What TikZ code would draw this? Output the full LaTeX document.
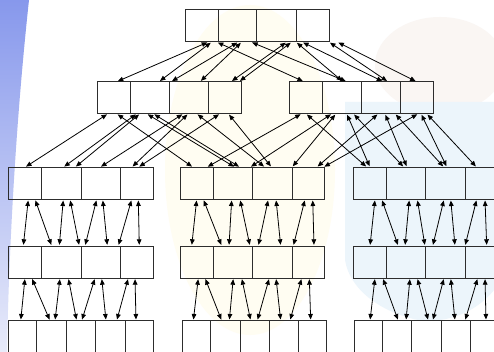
\documentclass[tikz,border=0pt]{standalone}
\usetikzlibrary{arrows.meta}
\definecolor{boxline}{RGB}{45,45,45}
\definecolor{bandtop}{RGB}{135,152,236}
\definecolor{bandbot}{RGB}{232,235,250}
\definecolor{crestblue}{RGB}{236,245,251}
\definecolor{sunyellow}{RGB}{255,253,242}
\definecolor{treetint}{RGB}{250,246,243}
\newcommand\mkcell[4]{\node[cellst,minimum width={(#3)-(#2)}] (#1) at (#2,#4) {};}
\begin{document}
\begin{tikzpicture}[x=1pt,y=-1pt,
  cellst/.style={draw=boxline,line width=1pt,inner sep=0pt,outer sep=0pt,anchor=north west,minimum height=32pt},
  arr/.style={line width=0.8pt,{Triangle[length=5.5pt,width=4.6pt]}-{Triangle[length=5.5pt,width=4.6pt]},shorten <=1.2pt,shorten >=1.2pt}]
\useasboundingbox (0,0) rectangle (494,352);
\clip (0,0) rectangle (494,352);
% faint background
\fill[white] (0,0) rectangle (494,352);
\fill[sunyellow] (250,170) ellipse [x radius=85, y radius=165];
\fill[treetint] (440,65) ellipse [x radius=65, y radius=48];
\fill[crestblue] (345,102) -- (494,102) -- (494,290) .. controls (470,320) and (430,325) .. (410,318) .. controls (380,310) and (350,290) .. (345,260) -- cycle;
\shade[top color=bandtop,bottom color=bandbot] (0,0) -- (29,0) .. controls (17,110) and (9,240) .. (7,352) -- (0,352) -- cycle;

% top box
\mkcell{t1}{185}{218}{10}\mkcell{t2}{218}{256.7}{10}\mkcell{t3}{256.7}{296.7}{10}\mkcell{t4}{296.7}{329}{10}
% level 2
\mkcell{a1}{97.3}{130}{81.7}\mkcell{a2}{130}{169.3}{81.7}\mkcell{a3}{169.3}{208.7}{81.7}\mkcell{a4}{208.7}{241.3}{81.7}
\mkcell{b1}{289}{322.3}{81.7}\mkcell{b2}{322.3}{361}{81.7}\mkcell{b3}{361}{400.7}{81.7}\mkcell{b4}{400.7}{433.3}{81.7}
% level 3 and 4
\foreach \r/\y in {c/167.3,d/246}{
  \mkcell{\r a1}{8.3}{41.7}{\y}\mkcell{\r a2}{41.7}{81}{\y}\mkcell{\r a3}{81}{120.7}{\y}\mkcell{\r a4}{120.7}{153}{\y}
  \mkcell{\r b1}{180.7}{213.3}{\y}\mkcell{\r b2}{213.3}{252.3}{\y}\mkcell{\r b3}{252.3}{292.7}{\y}\mkcell{\r b4}{292.7}{324.7}{\y}
  \mkcell{\r c1}{353.3}{386.3}{\y}\mkcell{\r c2}{386.3}{425.7}{\y}\mkcell{\r c3}{425.7}{465}{\y}\mkcell{\r c4}{465}{497.5}{\y}
}
% level 5
\mkcell{ea1}{8.3}{36.7}{320.7}\mkcell{ea2}{36.7}{66.3}{320.7}\mkcell{ea3}{66.3}{95.7}{320.7}\mkcell{ea4}{95.7}{125}{320.7}\mkcell{ea5}{125}{153}{320.7}
\mkcell{eb1}{182.3}{210.7}{320.7}\mkcell{eb2}{210.7}{240.7}{320.7}\mkcell{eb3}{240.7}{269.7}{320.7}\mkcell{eb4}{269.7}{298.3}{320.7}\mkcell{eb5}{298.3}{326.7}{320.7}
\mkcell{ec1}{354.3}{382.3}{320.7}\mkcell{ec2}{382.3}{411.7}{320.7}\mkcell{ec3}{411.7}{441.3}{320.7}\mkcell{ec4}{441.3}{470.7}{320.7}\mkcell{ec5}{470.7}{500}{320.7}

% top -> level 2
\foreach \u/\ux/\l/\lx in {t1/208.3/a1/116.7, t1/211.7/a2/159, t1/216.7/b1/304,
  t2/238.3/a3/171, t2/241.7/a3/200, t2/251/b2/347,
  t3/286.7/a4/231, t3/291.7/a4/239, t3/296/b2/343,
  t4/302/b3/383.3, t4/329/b3/388, t4/337.3/b4/416.7}
  \draw[arr] (\u.south -| \ux,0) -- (\l.north -| \lx,0);

% level 2 -> level 3
\foreach \u/\ux/\l/\lx in {a1/108/ca1/25, a1/116.7/cb1/193,
  a2/136.7/ca2/63.3, a2/140/ca2/75, a2/146.7/cb2/235, a2/153.3/cb2/240,
  a3/183.3/ca3/100, a3/188.3/ca4/131.7, a3/196.7/cb3/265,
  a4/220/ca4/138.3, a4/228.3/cb3/271.7,
  b1/301.7/cb1/206.7, b1/306/cc1/367,
  b2/332/cb2/250, b2/336/cb3/292, b2/346.7/cc1/370, b2/353.3/cc2/404,
  b3/378.3/cb4/316.7, b3/385/cc2/407, b3/395/cc3/444,
  b4/418.3/cb4/323.3, b4/421/cc3/447, b4/426.7/cc4/476.7}
  \draw[arr] (\u.south -| \ux,0) -- (\l.north -| \lx,0);

% level 3 -> level 4
\foreach \u/\ux/\l/\lx in {a1/28.3/a1/23.3, a1/35/a2/51.7, a2/63.3/a2/59.3, a2/70/a2/79.3,
  a3/96.7/a3/85, a3/102.7/a3/107.3, a4/131.7/a3/118.3, a4/138.3/a4/139.3,
  b1/196.7/b1/191.7, b1/203.3/b2/221.7, b2/231.7/b2/229, b2/240/b2/250,
  b3/268.3/b3/258.3, b3/276/b3/280.7, b4/305/b4/293.3, b4/312.7/b4/314,
  c1/375/c1/370, c1/381.7/c2/398.3, c2/409.3/c2/405, c2/417.3/c2/425,
  c3/444/c3/432.7, c3/450.7/c3/455, c4/476.7/c4/465, c4/485/c4/486.7}
  \draw[arr] (c\u.south -| \ux,0) -- (d\l.north -| \lx,0);

% level 4 -> level 5
\foreach \u/\ux/\l/\lx in {a1/25/a1/20.7, a1/31.7/a2/50, a2/60/a2/55, a2/68.3/a3/76.7,
  a3/95/a3/81.7, a3/101.7/a4/106, a4/128.3/a4/116.7, a4/135/a5/136,
  b1/198.3/b1/193.3, b1/205/b2/221.7, b2/233.3/b2/229.3, b2/241.7/b3/250.7,
  b3/269.3/b3/257.3, b3/276/b4/280.7, b4/301.7/b4/290, b4/309.3/b5/310.7,
  c1/375/c1/370, c1/382.7/c2/398.3, c2/410/c2/406, c2/417.3/c3/428.3,
  c3/444/c3/432.7, c3/450.7/c4/455, c4/477.7/c4/465, c4/485/c5/486}
  \draw[arr] (d\u.south -| \ux,0) -- (e\l.north -| \lx,0);
\end{tikzpicture}
\end{document}
